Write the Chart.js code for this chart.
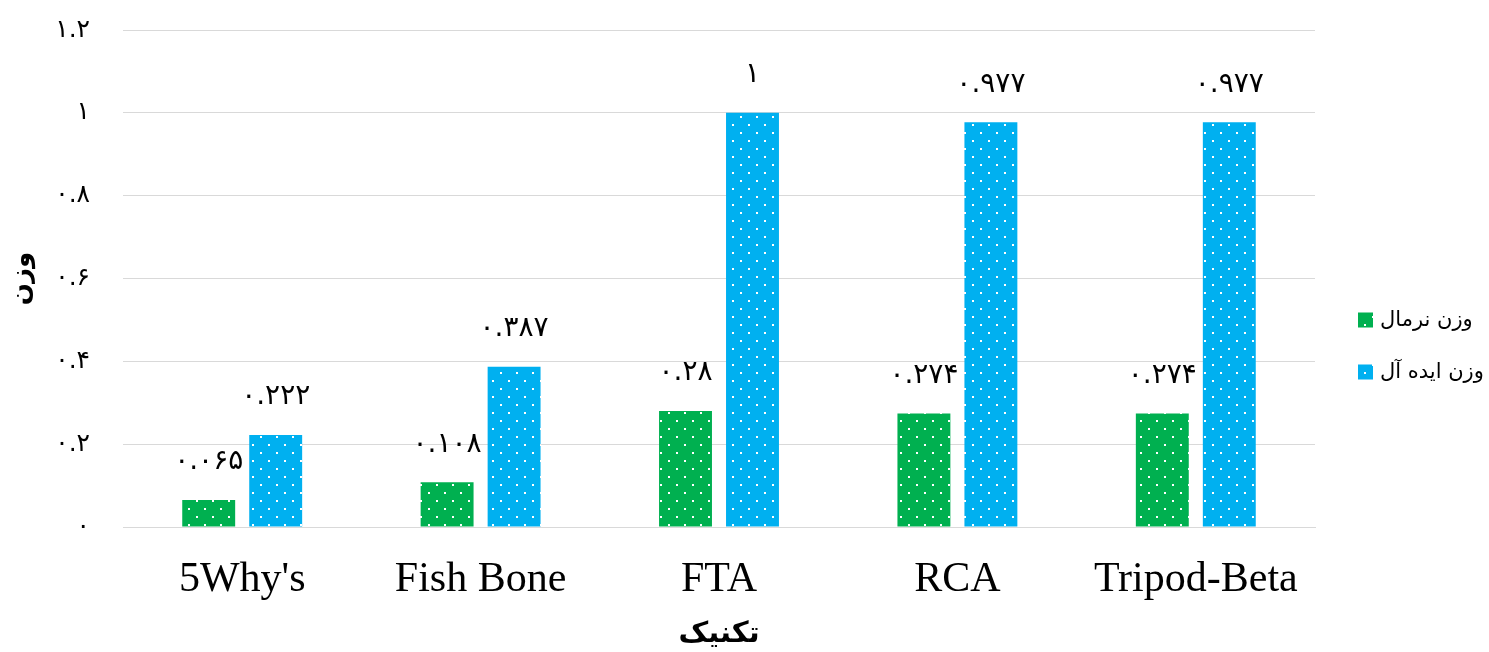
<!DOCTYPE html>
<html>
<head>
<meta charset="utf-8">
<script src="https://cdn.jsdelivr.net/npm/chart.js@4.4.1/dist/chart.umd.min.js"></script>
<style>
  html, body { margin: 0; padding: 0; background: #ffffff; }
  #wrap { width: 1489px; height: 652px; position: relative; }
</style>
</head>
<body>
<div id="wrap"><canvas id="chart" width="1489" height="652"></canvas></div>
<script>
// Techniques compared
const categories = ["5Why's", "Fish Bone", "FTA", "RCA", "Tripod-Beta"];
// Normal weight per technique
const normalWeights = [0.065, 0.108, 0.28, 0.274, 0.274];
// Ideal weight per technique
const idealWeights = [0.222, 0.387, 1, 0.977, 0.977];
const seriesNames = ["وزن نرمال", "وزن ایده آل"];
const yTicks = [0, 0.2, 0.4, 0.6, 0.8, 1, 1.2];

const faDigits = "۰۱۲۳۴۵۶۷۸۹";
function toFa(v) {
  return String(v).replace(/[0-9]/g, d => faDigits[+d]);
}

// Dotted fill: white dots on a staggered grid
function dotPattern(color) {
  const c = document.createElement('canvas');
  c.width = 16; c.height = 16;
  const g = c.getContext('2d');
  g.fillStyle = color;
  g.fillRect(0, 0, 16, 16);
  g.fillStyle = '#ffffff';
  g.fillRect(4, 4, 2, 2);
  g.fillRect(12, 12, 2, 2);
  return g.createPattern(c, 'repeat');
}

const ctx = document.getElementById('chart').getContext('2d');

const latin = "'Liberation Serif', 'DejaVu Sans', serif";
const arabic = "'DejaVu Sans', sans-serif";

// Value labels above each bar
const valueLabels = {
  id: 'valueLabels',
  afterDatasetsDraw(chart) {
    const g = chart.ctx;
    g.save();
    g.fillStyle = '#000000';
    g.font = "28px " + arabic;
    g.textAlign = 'center';
    g.textBaseline = 'bottom';
    chart.data.datasets.forEach((ds, i) => {
      chart.getDatasetMeta(i).data.forEach((bar, j) => {
        g.fillText(toFa(ds.data[j]), bar.x, bar.y - 24);
      });
    });
    g.restore();
  }
};

// Legend drawn to the right of the plot, one row per series
const sideLegend = {
  id: 'sideLegend',
  afterDraw(chart) {
    const g = chart.ctx;
    const area = chart.chartArea;
    const boxX = area.right + 43;
    const midY = (area.top + area.bottom) / 2 + 67.5;
    g.save();
    g.font = "21px " + arabic;
    g.textAlign = 'left';
    g.textBaseline = 'middle';
    chart.data.datasets.forEach((ds, i) => {
      const y = midY + (i - 0.5) * 52;
      g.fillStyle = ds.backgroundColor;
      g.fillRect(boxX, y - 7.5, 15, 15);
      g.fillStyle = '#000000';
      g.fillText(ds.label, boxX + 22, y + 1);
    });
    g.restore();
  }
};

new Chart(ctx, {
  type: 'bar',
  data: {
    labels: categories,
    datasets: [
      { label: seriesNames[0], data: normalWeights, backgroundColor: dotPattern('#00B050') },
      { label: seriesNames[1], data: idealWeights, backgroundColor: dotPattern('#00B0F0') }
    ]
  },
  options: {
    responsive: false,
    animation: false,
    devicePixelRatio: 1,
    categoryPercentage: 0.562,
    barPercentage: 0.79,
    layout: { padding: { top: 30, right: 174, left: 0, bottom: 0 } },
    plugins: {
      legend: { display: false },
      tooltip: { enabled: false }
    },
    scales: {
      x: {
        afterFit(scale) { scale.height = 125; },
        grid: { display: false },
        border: { color: '#d9d9d9' },
        ticks: {
          color: '#000000',
          padding: 20,
          font: { family: latin, size: 42 }
        },
        title: {
          display: true,
          text: 'تکنیک',
          color: '#000000',
          padding: { top: 0, bottom: 0 },
          font: { family: arabic, size: 29, weight: 'bold' }
        }
      },
      y: {
        min: 0,
        max: 1.2,
        afterBuildTicks(axis) { axis.ticks = yTicks.map(v => ({ value: v })); },
        afterFit(scale) {
          scale.width = 123;
          // the wide tick gap should not push the plot down from the top
          scale.paddingTop = 15;
          scale.paddingBottom = 15;
        },
        grid: { color: '#d9d9d9', lineWidth: 1, drawTicks: false },
        border: { display: false },
        ticks: {
          color: '#000000',
          padding: 33,
          font: { family: arabic, size: 25 },
          callback: v => toFa(v)
        },
        title: {
          display: true,
          text: 'وزن',
          color: '#000000',
          padding: { top: 7, bottom: 0 },
          font: { family: arabic, size: 26, weight: 'bold' }
        }
      }
    }
  },
  plugins: [valueLabels, sideLegend]
});
</script>
</body>
</html>
